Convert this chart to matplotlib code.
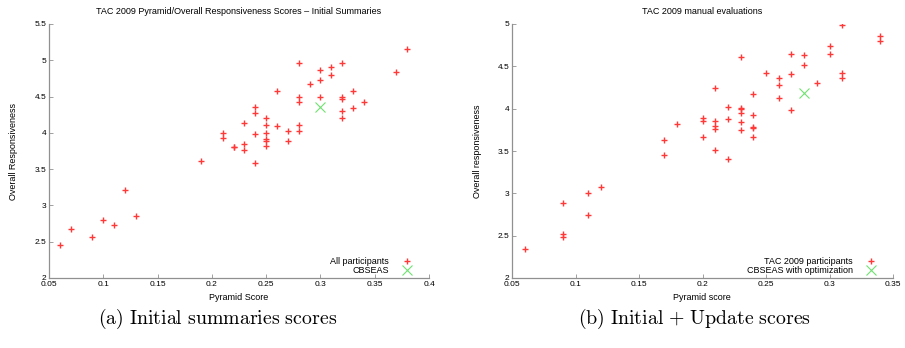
import matplotlib
matplotlib.use("Agg")
import matplotlib.pyplot as plt

# ---- data (a): initial summaries ----
a_x = [0.06, 0.07, 0.09, 0.10, 0.11, 0.12, 0.13, 0.19, 0.21, 0.21, 0.22, 0.22,
       0.23, 0.23, 0.23, 0.24, 0.24, 0.24, 0.24, 0.25, 0.25, 0.25, 0.25, 0.25,
       0.25, 0.26, 0.26, 0.27, 0.27, 0.28, 0.28, 0.28, 0.28, 0.28, 0.29, 0.30,
       0.30, 0.30, 0.31, 0.31, 0.32, 0.32, 0.32, 0.32, 0.32, 0.33, 0.33, 0.34,
       0.37, 0.38]
a_y = [2.46, 2.68, 2.57, 2.80, 2.73, 3.21, 2.86, 3.61, 4.00, 3.93, 3.81, 3.80,
       4.14, 3.84, 3.77, 4.36, 4.27, 3.98, 3.58, 4.21, 4.11, 4.00, 3.91, 3.89,
       3.82, 4.57, 4.09, 4.02, 3.89, 4.96, 4.50, 4.43, 4.11, 4.02, 4.68, 4.86,
       4.73, 4.50, 4.91, 4.80, 4.96, 4.50, 4.46, 4.30, 4.21, 4.57, 4.34, 4.43,
       4.84, 5.16]
a_cbseas_x = [0.30]
a_cbseas_y = [4.36]

# ---- data (b): initial + update ----
b_x = [0.06, 0.09, 0.09, 0.09, 0.11, 0.11, 0.12, 0.17, 0.17, 0.18, 0.20, 0.20,
       0.20, 0.21, 0.21, 0.21, 0.21, 0.21, 0.22, 0.22, 0.22, 0.23, 0.23, 0.23,
       0.23, 0.23, 0.23, 0.24, 0.24, 0.24, 0.24, 0.24, 0.25, 0.26, 0.26, 0.26,
       0.27, 0.27, 0.27, 0.28, 0.28, 0.29, 0.30, 0.30, 0.31, 0.31, 0.31, 0.34,
       0.34]
b_y = [2.34, 2.88, 2.52, 2.49, 3.00, 2.75, 3.07, 3.63, 3.45, 3.82, 3.89, 3.85,
       3.67, 4.24, 3.86, 3.80, 3.76, 3.51, 4.02, 3.88, 3.41, 4.61, 4.01, 4.00,
       3.95, 3.84, 3.75, 4.17, 3.93, 3.78, 3.77, 3.67, 4.42, 4.36, 4.28, 4.13,
       4.64, 4.41, 3.98, 4.63, 4.51, 4.30, 4.74, 4.65, 4.99, 4.42, 4.36, 4.86,
       4.80]
b_cbseas_x = [0.28]
b_cbseas_y = [4.18]

a_xticks = [0.05, 0.1, 0.15, 0.2, 0.25, 0.3, 0.35, 0.4]
a_xticklabels = ["0.05", "0.1", "0.15", "0.2", "0.25", "0.3", "0.35", "0.4"]
a_yticks = [2, 2.5, 3, 3.5, 4, 4.5, 5, 5.5]
a_yticklabels = ["2", "2.5", "3", "3.5", "4", "4.5", "5", "5.5"]
b_xticks = [0.05, 0.1, 0.15, 0.2, 0.25, 0.3, 0.35]
b_xticklabels = ["0.05", "0.1", "0.15", "0.2", "0.25", "0.3", "0.35"]
b_yticks = [2, 2.5, 3, 3.5, 4, 4.5, 5]
b_yticklabels = ["2", "2.5", "3", "3.5", "4", "4.5", "5"]

W, H = 905, 348
fig = plt.figure(figsize=(W / 100, H / 100), dpi=100)
plt.rcParams['font.family'] = ['Liberation Sans', 'DejaVu Sans']
plt.rcParams['mathtext.fontset'] = 'cm'

RED = '#ff3838'
GREEN = '#70e070'
SPINE = '#909090'
FS = 6


def px_axes(x0, x1, y0, y1):
    return fig.add_axes([x0 / W, 1 - y1 / H, (x1 - x0) / W, (y1 - y0) / H])


def style(ax, xt, xtl, yt, ytl, xlim, ylim):
    ax.set_xlim(*xlim)
    ax.set_ylim(*ylim)
    ax.set_xticks(xt)
    ax.set_xticklabels(xtl)
    ax.set_yticks(yt)
    ax.set_yticklabels(ytl)
    for s in ['top', 'right']:
        ax.spines[s].set_visible(False)
    for s in ['left', 'bottom']:
        ax.spines[s].set_color(SPINE)
        ax.spines[s].set_linewidth(0.9)
    ax.tick_params(direction='in', length=3, width=0.6, color=SPINE,
                   labelsize=FS, pad=2)
    ax.set_facecolor('none')


def draw(ax, x, y, cx, cy, l1, l2, width_px):
    ax.plot(x, y, linestyle='none', marker='+', markersize=5,
            markeredgewidth=1.0, color=RED, label=l1, zorder=3)
    ax.plot(cx, cy, linestyle='none', marker='x', markersize=7,
            markeredgewidth=0.8, color=GREEN, label=l2, zorder=3)
    ax.legend(loc='lower right', frameon=False, markerfirst=False,
              fontsize=FS + 0.5, handletextpad=1.2, labelspacing=0.05,
              borderaxespad=0.3, borderpad=0.2, handlelength=1.5,
              numpoints=1,
              bbox_to_anchor=(1 - 11 / width_px, -2 / 254))


# ---- (a) ----
ax1 = px_axes(49, 429, 24, 278)
draw(ax1, a_x, a_y, a_cbseas_x, a_cbseas_y, "All participants", "CBSEAS", 380)
style(ax1, a_xticks, a_xticklabels, a_yticks, a_yticklabels,
      (0.05, 0.4), (2, 5.5))
fig.text(239 / W, 1 - 12 / H,
         "TAC 2009 Pyramid/Overall Responsiveness Scores \u2013 Initial Summaries",
         ha='center', va='center', fontsize=FS + 0.5)
fig.text(239 / W, 1 - 298 / H, "Pyramid Score", ha='center', va='center',
         fontsize=FS + 0.5)
fig.text(14 / W, 1 - 151 / H, "Overall Responsiveness", ha='center',
         va='center', rotation=90, fontsize=FS + 0.5)

# ---- (b) ----
ax2 = px_axes(512, 893, 24, 278)
draw(ax2, b_x, b_y, b_cbseas_x, b_cbseas_y, "TAC 2009 participants",
     "CBSEAS with optimization", 381)
style(ax2, b_xticks, b_xticklabels, b_yticks, b_yticklabels,
      (0.05, 0.35), (2, 5))
fig.text(702 / W, 1 - 12 / H, "TAC 2009 manual evaluations",
         ha='center', va='center', fontsize=FS + 0.5)
fig.text(702 / W, 1 - 298 / H, "Pyramid score", ha='center', va='center',
         fontsize=FS + 0.5)
fig.text(477 / W, 1 - 151 / H, "Overall responsiveness", ha='center',
         va='center', rotation=90, fontsize=FS + 0.5)

# ---- captions ----
fig.text(218 / W, 1 - 319 / H, r"$\mathrm{(a)\ Initial\ summaries\ scores}$",
         ha='center', va='center', fontsize=14.3)
fig.text(695 / W, 1 - 319 / H, r"$\mathrm{(b)\ Initial\ {+}\ Update\ scores}$",
         ha='center', va='center', fontsize=14.3)

fig.savefig("out.png", dpi=100)
